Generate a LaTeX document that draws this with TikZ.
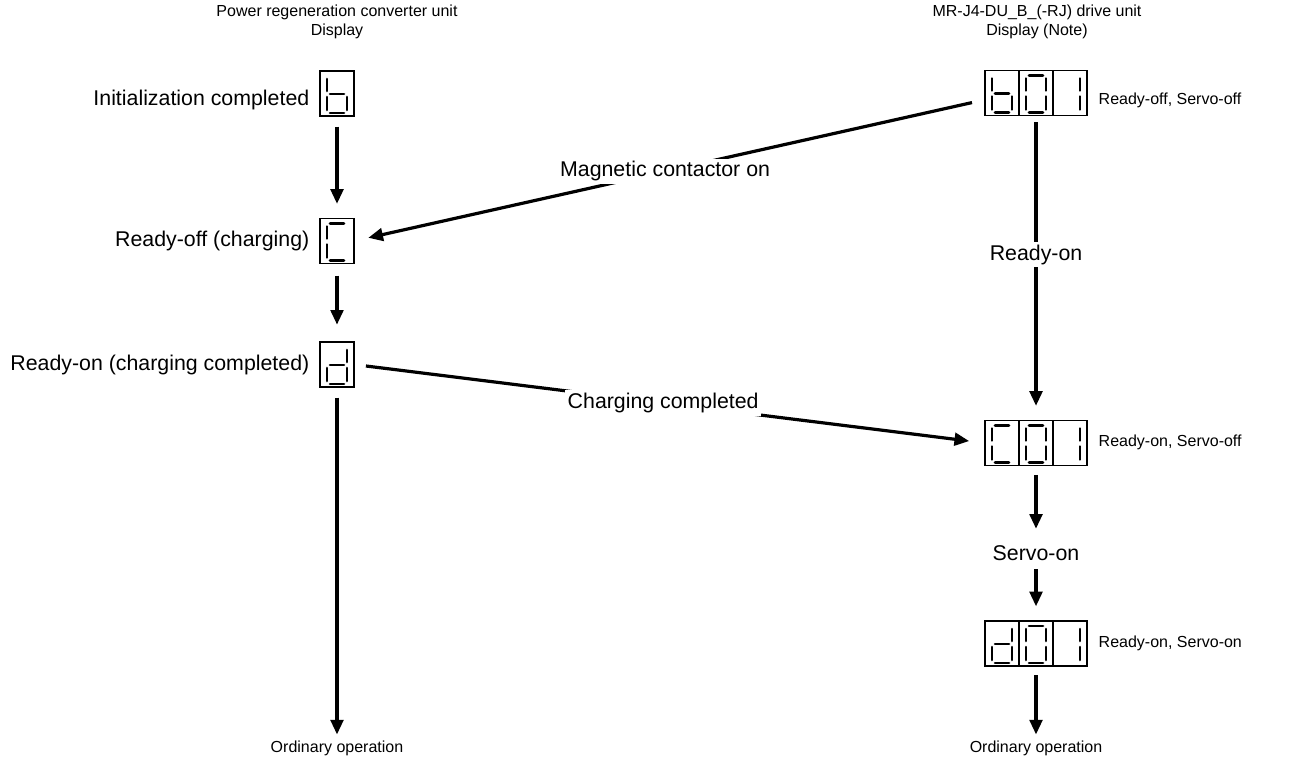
\documentclass[tikz,border=0pt]{standalone}
\usepackage{fontspec}
\setmainfont{Liberation Sans}
\usetikzlibrary{arrows.meta}

\newcommand{\segdigit}[2]{%
  \begin{scope}[shift={(#1)}]
    \foreach \s in {#2}{%
      \ifcase\s\relax
        \draw[segline] (10,5) -- (24,5);
      \or \draw[segline] (27,8) -- (27,20);
      \or \draw[segline] (27,26) -- (27,39);
      \or \draw[segline] (10,42) -- (24,42);
      \or \draw[segline] (7,26) -- (7,39);
      \or \draw[segline] (7,8) -- (7,20);
      \or \draw[segline] (10,23) -- (24,23);
      \fi}
  \end{scope}}

\begin{document}
\begin{tikzpicture}[x=0.75pt, y=-0.75pt,
  font=\fontsize{12}{14.25}\selectfont,
  big/.style={font=\fontsize{16}{19}\selectfont},
  cell/.style={draw, line width=0.8pt, minimum width=25.5pt, minimum height=33.75pt, inner sep=0pt, outer sep=0pt},
  segline/.style={line width=2pt, line cap=round},
  flow/.style={-{Triangle[length=11pt,width=9.5pt]}, line width=2.4pt},
  lbl/.style={big, fill=white, inner sep=2pt}]
\useasboundingbox (0,0) rectangle (1305,756);

\node[align=center] (headL) at (337,22) {Power regeneration converter unit\\Display};
\node[align=center] (headR) at (1037,22) {MR-J4-DU\_B\_(-RJ) drive unit\\Display (Note)};

\node[cell] (b) at (337,93.5) {};
\node[cell] (c) at (337,241) {};
\node[cell] (d) at (337,364.5) {};
\segdigit{b.north west}{5,4,6,2,3}
\segdigit{c.north west}{0,5,4,3}
\segdigit{d.north west}{1,2,6,4,3}
\node[big, anchor=east] (txtb) at (314,100) {Initialization completed};
\node[big, anchor=east] (txtc) at (314,241) {Ready-off (charging)};
\node[big, anchor=east] (txtd) at (314,365) {Ready-on (charging completed)};
\node (ordL) at (337,748) {Ordinary operation};

\foreach \n/\y in {1/93, 2/443, 3/643.5} {
  \node[cell] (r\n a) at (1002,\y) {};
  \node[cell] (r\n b) at (1036,\y) {};
  \node[cell] (r\n c) at (1070,\y) {};
  \segdigit{r\n b.north west}{0,1,2,3,4,5}
  \segdigit{r\n c.north west}{1,2}
}
\segdigit{r1a.north west}{5,4,6,2,3}
\segdigit{r2a.north west}{0,5,4,3}
\segdigit{r3a.north west}{1,2,6,4,3}
\node[anchor=west] (txtr1) at (1094,100) {Ready-off, Servo-off};
\node[anchor=west] (txtr2) at (1094,442) {Ready-on, Servo-off};
\node[anchor=west] (txtr3) at (1094,643) {Ready-on, Servo-on};
\node[big] (servo) at (1036,553) {Servo-on};
\node (ordR) at (1036,748) {Ordinary operation};

\draw[flow, shorten <=8pt, shorten >=11pt] (b) -- (c);
\draw[flow, shorten <=9pt, shorten >=13pt] (c) -- (d);
\draw[flow, shorten <=8pt, shorten >=1pt] (d) -- (ordL);

\draw[flow, shorten <=5pt, shorten >=11pt] (r1b) -- node[lbl, pos=0.457] {Ready-on} (r2b);
\draw[flow, shorten <=7pt, shorten >=9pt] (r2b) -- (servo);
\draw[flow, shorten <=3pt, shorten >=11pt] (servo) -- (r3b);
\draw[flow, shorten <=7pt, shorten >=1pt] (r3b) -- (ordR);

\draw[flow, shorten <=10pt, shorten >=11pt] ([yshift=-5pt]r1a.west) -- node[lbl, pos=0.507] {Magnetic contactor on} (c.east);
\draw[flow, shorten <=9pt, shorten >=12pt] (d.east) -- node[lbl, pos=0.49] {Charging completed} (r2a.west);
\end{tikzpicture}
\end{document}
